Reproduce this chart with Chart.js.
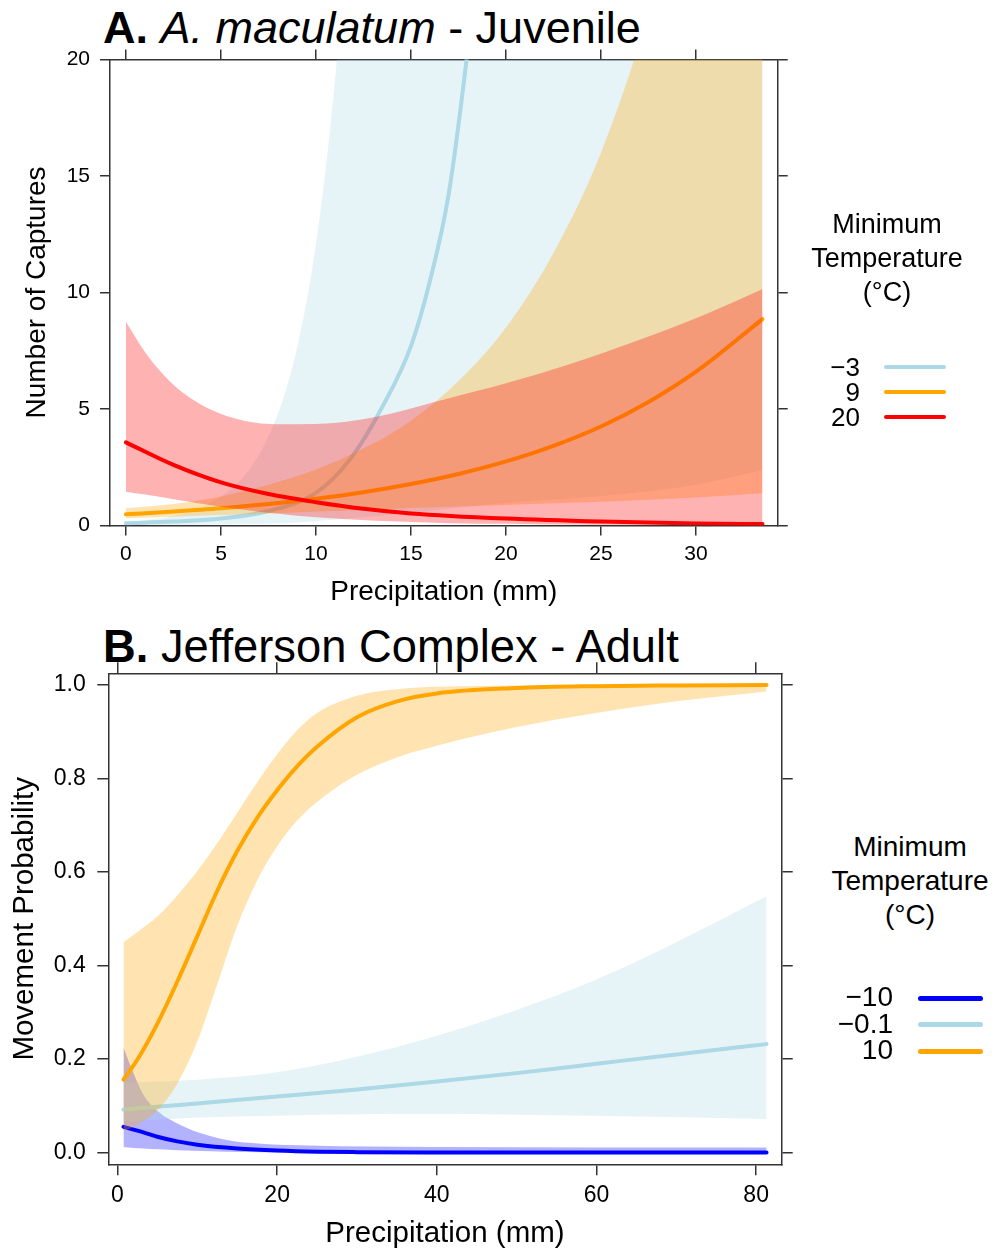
<!DOCTYPE html>
<html>
<head>
<meta charset="utf-8">
<script src="https://cdn.jsdelivr.net/npm/chart.js@4.4.1/dist/chart.umd.min.js"></script>
<style>
  body { margin: 0; background: #fff; }
  #page {
    position: relative; width: 995px; height: 1252px; overflow: hidden;
    font-family: 'Liberation Sans', Arial, sans-serif; color: #000;
  }
  canvas { position: absolute; left: 0; }
  .title { position: absolute; left: 103px; white-space: nowrap; line-height: 1; }
  .legend-title { position: absolute; width: 220px; text-align: center; }
  .legend-labels { position: absolute; width: 100px; text-align: right; }
  .swatch { position: absolute; border-radius: 3px; }
</style>
</head>
<body>
<div id="page">
  <div class="title" style="top:4.6px; font-size:45px;"><b>A.</b> <i>A. maculatum</i> - Juvenile</div>
  <canvas id="chartA" width="800" height="620" style="top:0"></canvas>
  <div class="legend-title" style="left:777px; top:206.5px; font-size:27px; line-height:34px;">Minimum<br>Temperature<br>(°C)</div>
  <div id="legendA"></div>

  <div class="title" style="top:623.5px; font-size:45.3px;"><b>B.</b> Jefferson Complex - Adult</div>
  <canvas id="chartB" width="800" height="632" style="top:620px"></canvas>
  <div class="legend-title" style="left:800px; top:830px; font-size:28px; line-height:34px;">Minimum<br>Temperature<br>(°C)</div>
  <div id="legendB"></div>
</div>
<script>
const FONT = "'Liberation Sans', Arial, sans-serif";
const FRAME = '#333333';

// ---- Panel A: A. maculatum juveniles, captures vs precipitation (mm)
const tempsA = ['−3', '9', '20'];

// -3 °C
const aColdBandX = [0, 2.5, 4.4, 6.2, 7.4, 8.3, 9, 9.8, 10.5, 11.1, 11.7, 15, 20, 25, 30, 33.5];
const aColdUpper = [0.15, 0.4, 0.95, 2.1, 3.65, 5.5, 7.6, 11, 15.2, 20, 26.5, 32, 32, 32, 32, 32];
const aColdLower = [0.02, 0.03, 0.04, 0.06, 0.08, 0.1, 0.13, 0.17, 0.22, 0.26, 0.3, 0.55, 0.98, 1.27, 1.75, 2.38];
const aColdLineX = [0, 2.5, 5, 7.5, 10, 11.8, 13.5, 15, 16, 17, 18, 19];
const aColdFit = [0.1, 0.17, 0.3, 0.62, 1.4, 2.85, 5.1, 7.7, 10.5, 14.3, 20.5, 28];

// 9 °C
const aMildX = [0, 2.5, 5, 7.5, 10, 12.5, 15, 17.5, 20, 22.5, 25, 27.5, 30, 33.5];
const aMildUpper = [0.74, 0.92, 1.25, 1.75, 2.4, 3.3, 4.5, 6.2, 8.5, 11.7, 16, 22, 30, 45];
const aMildLower = [0.31, 0.38, 0.45, 0.52, 0.6, 0.67, 0.75, 0.82, 0.88, 0.95, 1.02, 1.1, 1.2, 1.38];
const aMildFit = [0.48, 0.6, 0.74, 0.92, 1.15, 1.43, 1.78, 2.21, 2.75, 3.42, 4.25, 5.3, 6.6, 8.86];

// 20 °C
const aWarmBandX = [0, 1, 2, 3, 4.4, 6.2, 8, 10, 13.2, 17, 20, 23.5, 27, 30.6, 33.5];
const aWarmUpper = [8.75, 7.45, 6.45, 5.7, 5.0, 4.5, 4.35, 4.36, 4.67, 5.46, 6.1, 6.96, 7.96, 9.1, 10.15];
const aWarmLower = [1.45, 1.33, 1.2, 1.06, 0.88, 0.68, 0.5, 0.35, 0.2, 0.1, 0.07, 0.04, 0.03, 0.02, 0.01];
const aWarmLineX = [0, 2.5, 5, 7.5, 10, 12.5, 15, 20, 25, 30, 33.5];
const aWarmFit = [3.57, 2.6, 1.85, 1.35, 1.0, 0.72, 0.52, 0.3, 0.17, 0.09, 0.06];

// ---- Panel B: Jefferson complex adults, movement probability vs precipitation (mm)
const tempsB = ['−10', '−0.1', '10'];

// -10 °C
const bColdBandX = [0.75, 2, 3.2, 5.3, 7.5, 9.5, 13.7, 18, 24, 40, 60, 81.3];
const bColdUpper = [0.225, 0.17, 0.125, 0.085, 0.062, 0.047, 0.027, 0.019, 0.015, 0.012, 0.011, 0.011];
const bColdLower = [0.012, 0.01, 0.009, 0.007, 0.005, 0.004, 0.002, 0.001, 0.0005, 0.0002, 0.0001, 0];
const bColdLineX = [0.75, 2.5, 5, 7.5, 10, 15, 20, 25, 30, 40, 60, 81.3];
const bColdFit = [0.055, 0.047, 0.034, 0.024, 0.017, 0.009, 0.0045, 0.002, 0.001, 0.0003, 0, 0];

// -0.1 °C
const bMidX = [0.75, 10, 20, 30, 40, 50, 60, 70, 81.3];
const bMidUpper = [0.15, 0.156, 0.172, 0.205, 0.25, 0.305, 0.37, 0.45, 0.548];
const bMidLower = [0.066, 0.075, 0.079, 0.082, 0.083, 0.081, 0.079, 0.076, 0.072];
const bMidFit = [0.092, 0.105, 0.12, 0.135, 0.152, 0.17, 0.19, 0.21, 0.232];

// 10 °C
const bWarmX = [0.75, 2.5, 5, 7.5, 10, 12.5, 15, 17.5, 20, 22.5, 25, 30, 35, 40, 50, 60, 70, 81.3];
const bWarmUpper = [0.45, 0.472, 0.505, 0.55, 0.602, 0.662, 0.727, 0.792, 0.852, 0.903, 0.94, 0.977, 0.991, 0.996, 0.999, 1, 1, 1];
const bWarmLower = [0.045, 0.06, 0.09, 0.148, 0.238, 0.36, 0.485, 0.582, 0.655, 0.71, 0.75, 0.808, 0.845, 0.87, 0.91, 0.94, 0.965, 0.986];
const bWarmFit = [0.156, 0.199, 0.276, 0.366, 0.463, 0.56, 0.645, 0.716, 0.775, 0.826, 0.868, 0.931, 0.965, 0.982, 0.9935, 0.9975, 0.999, 1];

const colors = {
  lightblue: '#ADD8E6',
  orange: '#FFA500',
  red: '#FF0000',
  blue: '#0000FF',
};
const bandColors = {
  lightblue: 'rgba(173, 216, 230, 0.3)',
  orange: 'rgba(255, 165, 0, 0.3)',
  red: 'rgba(255, 0, 0, 0.3)',
  blue: 'rgba(0, 0, 255, 0.3)',
};

const pts = (xs, ys) => xs.map((x, i) => ({ x, y: ys[i] }));

// upper edge fills down to the lower edge (next dataset)
const band = (xs, lo, hi, key, order) => [
  {
    data: pts(xs, hi), fill: '+1', backgroundColor: bandColors[key],
    borderWidth: 0, borderColor: 'transparent', pointRadius: 0,
    cubicInterpolationMode: 'monotone', order,
  },
  {
    data: pts(xs, lo), fill: false,
    borderWidth: 0, borderColor: 'transparent', pointRadius: 0,
    cubicInterpolationMode: 'monotone', order,
  },
];

const fitLine = (xs, ys, key, order, width = 4) => ({
  data: pts(xs, ys), fill: false, borderColor: colors[key], borderWidth: width,
  pointRadius: 0, borderCapStyle: 'round', borderJoinStyle: 'round',
  cubicInterpolationMode: 'monotone', order,
});

const frameScales = (o) => {
  const grid = {
    drawOnChartArea: false, drawTicks: true, tickLength: o.tickLen,
    color: FRAME, lineWidth: 1.5,
  };
  const border = { display: true, color: FRAME, width: 1.5 };
  const tickFont = { family: FONT, size: o.tickSize };
  const titleFont = { family: FONT, size: o.titleSize };
  return {
    x: {
      type: 'linear', position: 'bottom', min: o.xMin, max: o.xMax, grid, border,
      ticks: { stepSize: o.xStep, includeBounds: false, padding: o.xPad, color: '#000', font: tickFont, maxRotation: 0 },
      title: { display: true, text: 'Precipitation (mm)', color: '#000', font: titleFont, padding: { top: 0, bottom: o.xTitlePad } },
      afterFit: (s) => { s.height = o.bottom; },
    },
    xTop: {
      type: 'linear', position: 'top', min: o.xMin, max: o.xMax, grid, border,
      ticks: { stepSize: o.xStep, includeBounds: false, display: false },
      afterFit: (s) => { s.height = o.top; },
    },
    y: {
      type: 'linear', position: 'left', min: o.yMin, max: o.yMax, grid, border,
      ticks: { stepSize: o.yStep, includeBounds: false, padding: o.yPad, color: '#000', font: tickFont, callback: o.yFormat },
      title: { display: true, text: o.yTitle, color: '#000', font: titleFont, padding: { top: o.yTitlePad, bottom: 0 } },
      afterFit: (s) => { s.width = o.left; },
    },
    yRight: {
      type: 'linear', position: 'right', min: o.yMin, max: o.yMax, grid, border,
      ticks: { stepSize: o.yStep, includeBounds: false, display: false },
      afterFit: (s) => { s.width = o.right; },
    },
  };
};

const renderChart = (canvasId, datasets, scales) => new Chart(document.getElementById(canvasId), {
  type: 'line',
  data: { datasets: datasets.map((d) => ({ ...d, xAxisID: 'x', yAxisID: 'y' })) },
  options: {
    responsive: false,
    animation: false,
    layout: { padding: 0 },
    plugins: { legend: { display: false }, tooltip: { enabled: false } },
    scales,
  },
});

const renderLegend = (id, labels, keys, o) => {
  const box = document.getElementById(id);
  const text = document.createElement('div');
  text.className = 'legend-labels';
  text.style.cssText = `left:${o.textRight - 100}px; top:${o.textTop}px; font-size:${o.fontSize}px; line-height:${o.step}px;`;
  text.innerHTML = labels.join('<br>');
  box.appendChild(text);
  keys.forEach((key, i) => {
    const sw = document.createElement('div');
    sw.className = 'swatch';
    sw.style.cssText = `left:${o.lineLeft}px; width:${o.lineWidth}px; height:${o.thick}px; `
      + `top:${o.lineTop + i * o.step - o.thick / 2}px; background:${colors[key]};`;
    box.appendChild(sw);
  });
};

renderChart('chartA', [
  fitLine(aWarmLineX, aWarmFit, 'red', 1),
  ...band(aWarmBandX, aWarmLower, aWarmUpper, 'red', 2),
  fitLine(aMildX, aMildFit, 'orange', 3),
  ...band(aMildX, aMildLower, aMildUpper, 'orange', 4),
  fitLine(aColdLineX, aColdFit, 'lightblue', 5),
  ...band(aColdBandX, aColdLower, aColdUpper, 'lightblue', 6),
], frameScales({
  xMin: -0.84, xMax: 34.3, xStep: 5, yMin: 0, yMax: 20, yStep: 5,
  top: 59.5, bottom: 94.5, left: 110, right: 22.3,
  tickLen: 10, tickSize: 21, titleSize: 28, xPad: 6.5, yPad: 10,
  xTitlePad: 11, yTitlePad: 20, yTitle: 'Number of Captures',
}));

renderChart('chartB', [
  fitLine(bWarmX, bWarmFit, 'orange', 1),
  ...band(bWarmX, bWarmLower, bWarmUpper, 'orange', 2),
  fitLine(bMidX, bMidFit, 'lightblue', 3),
  ...band(bMidX, bMidLower, bMidUpper, 'lightblue', 4),
  fitLine(bColdLineX, bColdFit, 'blue', 5),
  ...band(bColdBandX, bColdLower, bColdUpper, 'blue', 6),
], frameScales({
  xMin: -1.15, xMax: 83.2, xStep: 20, yMin: -0.025, yMax: 1.025, yStep: 0.2,
  top: 53.3, bottom: 87.7, left: 108.3, right: 18.3,
  tickLen: 11, tickSize: 23, titleSize: 29.5, xPad: 6.5, yPad: 11.5,
  xTitlePad: 0, yTitlePad: 7.3, yTitle: 'Movement Probability',
  yFormat: (v) => v.toFixed(1),
}));

renderLegend('legendA', tempsA, ['lightblue', 'orange', 'red'], {
  textRight: 860, textTop: 355.2, fontSize: 26, step: 25,
  lineLeft: 884, lineWidth: 62, lineTop: 367, thick: 4,
});
renderLegend('legendB', tempsB, ['blue', 'lightblue', 'orange'], {
  textRight: 893, textTop: 984, fontSize: 28, step: 26.7,
  lineLeft: 918, lineWidth: 65, lineTop: 998, thick: 5,
});
</script>
</body>
</html>
